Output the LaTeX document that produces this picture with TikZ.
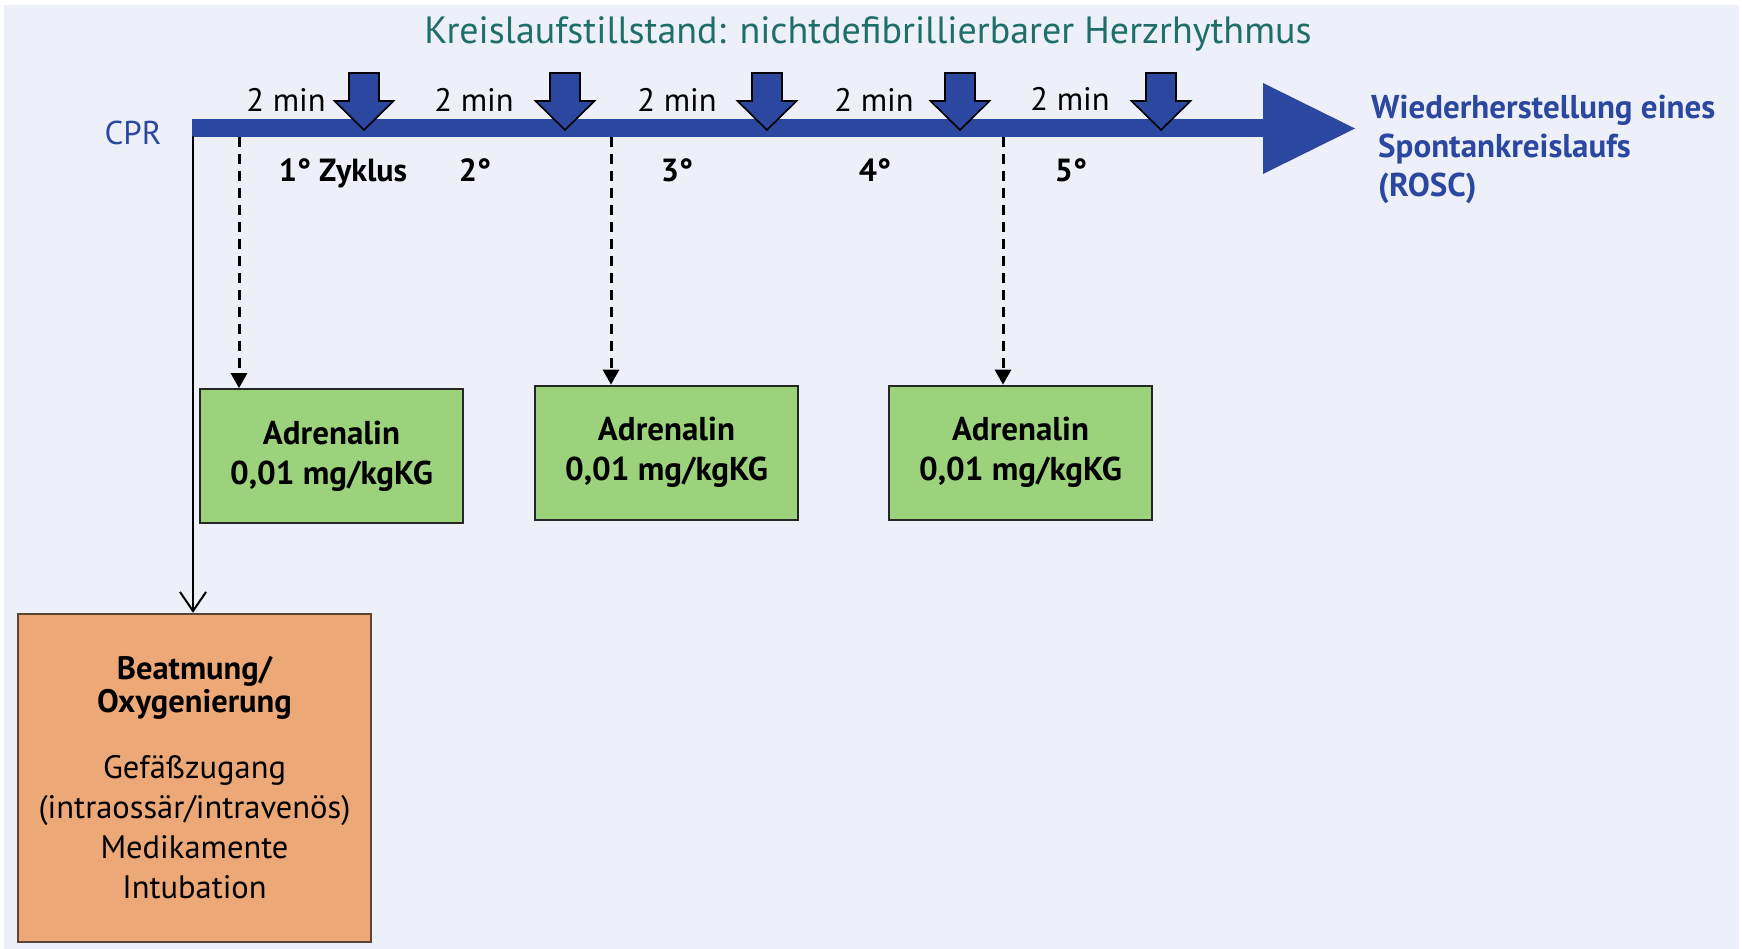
\documentclass[tikz,border=0pt]{standalone}
\usepackage{fontspec}
\setmainfont{PT Sans}
\usetikzlibrary{arrows.meta}
\definecolor{pagebg}{HTML}{EDF0F9}
\definecolor{cprblue}{HTML}{2B479F}
\definecolor{titleteal}{HTML}{1E6E69}
\definecolor{drugfill}{HTML}{9CD27B}
\definecolor{carefill}{HTML}{EDA878}
\definecolor{careedge}{HTML}{5C4535}
\begin{document}
\begin{tikzpicture}[x=1pt,y=-1pt,
  tmin/.style={anchor=base, inner sep=0, font=\fontsize{32.5}{38}\selectfont},
  cyc/.style={anchor=base, inner sep=0, font=\bfseries\fontsize{32}{38}\selectfont},
  drugbox/.style={draw=black!85, line width=2pt, fill=drugfill, minimum width=263pt,
    minimum height=134pt, align=center, inner sep=0,
    font=\bfseries\fontsize{33}{40}\selectfont},
  carebox/.style={draw=careedge, line width=2.5pt, fill=carefill, minimum width=353pt,
    minimum height=328pt, align=center, inner sep=0,
    font=\fontsize{32.5}{40}\selectfont},
  dropline/.style={line width=3pt, dash pattern=on 10pt off 7pt,
    -{Triangle[length=15pt,width=17pt,sep=0pt,line width=0pt]}},
  cprline/.style={line width=1.6pt, -{Straight Barb[length=19pt,width=26pt,line width=2pt]}},
  dose/.pic={
    \filldraw[fill=cprblue, draw=black, line width=1.6pt, line join=miter]
      (-15,-57) -- (15,-57) -- (15,-29) -- (29.5,-29) -- (0,0)
      -- (-29.5,-29) -- (-15,-29) -- cycle;
  }]
\useasboundingbox (0,0) rectangle (1742,949);
\fill[white] (0,0) rectangle (1742,949);
\fill[pagebg] (4,5) rectangle (1739,949);

% heading
\node[anchor=base, inner sep=0, text=titleteal, font=\fontsize{38}{44}\selectfont]
  (title) at (868,44) {Kreislaufstillstand: nichtdefibrillierbarer Herzrhythmus};

% time line
\node[anchor=base, inner sep=0, text=cprblue, font=\fontsize{33}{38}\selectfont]
  (cpr) at (133,145) {CPR};
\fill[cprblue] (192,119) rectangle (1266,137);
\fill[cprblue] (1263,83) -- (1355,128.5) -- (1263,174) -- cycle;

% doses at the end of each cycle
\foreach \x/\n in {364/1,565/2,767/3,960/4,1161/5}
  \pic (dose\n) at (\x,130) {dose};

% cycle lengths and cycle numbers
\node[tmin] (t1) at (286,112) {2 min};
\node[tmin] (t2) at (474,112) {2 min};
\node[tmin] (t3) at (677,112) {2 min};
\node[tmin] (t4) at (874,112) {2 min};
\node[tmin] (t5) at (1070,111) {2 min};
\node[cyc] (c1) at (343,182) {1° Zyklus};
\node[cyc] (c2) at (475,182) {2°};
\node[cyc] (c3) at (677,182) {3°};
\node[cyc] (c4) at (875,182) {4°};
\node[cyc] (c5) at (1071,182) {5°};

% outcome
\node[anchor=north west, align=left, inner sep=0, text=cprblue,
  font=\bfseries\fontsize{33}{39}\selectfont] (rosc) at (1371,95)
  {Wiederherstellung eines\\\hspace*{7pt}Spontankreislaufs\\\hspace*{7pt}(ROSC)};

% adrenaline boxes
\node[drugbox] (drug1) at (331.5,456) {Adrenalin\\0,01 mg/kgKG};
\node[drugbox] (drug2) at (666.5,452.5) {Adrenalin\\0,01 mg/kgKG};
\node[drugbox] (drug3) at (1020.5,452.5) {Adrenalin\\0,01 mg/kgKG};

% measures box
\node[carebox] (care) at (194.5,778)
  {\bfseries Beatmung/\\[-7pt]\bfseries Oxygenierung\\[26pt]Gefäßzugang\\(intraossär/intravenös)\\Medikamente\\Intubation};

% connectors
\coordinate (cpr0) at (193,136);
\coordinate (d1) at (239,137);
\coordinate (d2) at (611,137);
\coordinate (d3) at (1003,137);
\draw[cprline] (cpr0) -- (cpr0 |- care.north);
\draw[dropline] (d1) -- (d1 |- drug1.north);
\draw[dropline] (d2) -- (d2 |- drug2.north);
\draw[dropline] (d3) -- (d3 |- drug3.north);
\end{tikzpicture}
\end{document}
